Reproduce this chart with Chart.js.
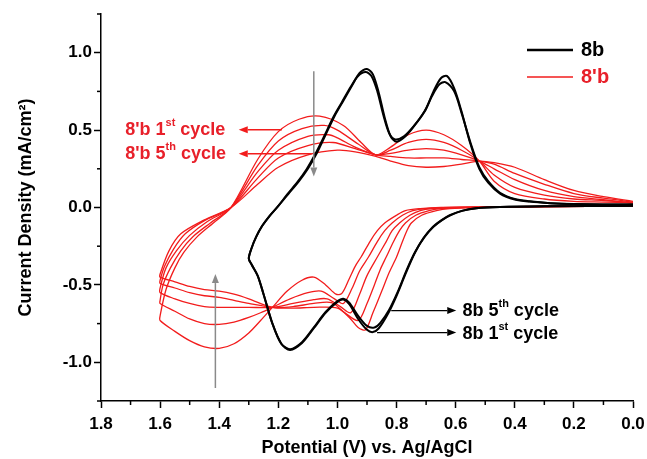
<!DOCTYPE html>
<html lang="en">
<head>
    <meta charset="UTF-8">
    <title>CV of 8b and 8'b</title>
    <script src="https://cdn.jsdelivr.net/npm/chart.js"></script>
    <style>
        body { margin: 0; background: #ffffff; }
        #cvChart { display: block; }
    </style>
</head>
<body>
    <canvas id="cvChart" width="647" height="459"></canvas>

    <script>
        // axis ticks
        const xTicks = [0.0, 0.2, 0.4, 0.6, 0.8, 1.0, 1.2, 1.4, 1.6, 1.8];
        const xMinorTicks = [0.1, 0.3, 0.5, 0.7, 0.9, 1.1, 1.3, 1.5, 1.7];
        const yTicks = [-1.0, -0.5, 0.0, 0.5, 1.0];
        const yMinorTicks = [-1.25, -0.75, -0.25, 0.25, 0.75, 1.25];

        // [potential (V), current density (mA/cm2)] - anodic sweep, then cathodic sweep back
        const cv8bCycle1 = [
            [0.00,0.020],[0.10,0.020],[0.20,0.022],[0.28,0.028],[0.35,0.038],[0.40,0.052],[0.45,0.090],[0.49,0.160],
            [0.52,0.250],[0.55,0.410],[0.58,0.620],[0.605,0.770],[0.63,0.850],[0.65,0.835],[0.675,0.750],[0.70,0.640],
            [0.735,0.540],[0.77,0.460],[0.80,0.425],[0.82,0.460],[0.84,0.580],[0.86,0.740],[0.88,0.860],[0.90,0.895],
            [0.925,0.870],[0.95,0.790],[0.98,0.690],[1.01,0.590],[1.04,0.470],[1.07,0.350],[1.10,0.250],[1.13,0.170],
            [1.165,0.090],[1.20,0.010],[1.23,-0.055],[1.255,-0.120],[1.275,-0.190],[1.29,-0.260],[1.30,-0.330],
            [1.29,-0.370],[1.27,-0.440],[1.25,-0.560],[1.22,-0.750],[1.19,-0.880],[1.16,-0.920],[1.12,-0.875],[1.08,-0.780],
            [1.04,-0.680],[1.00,-0.610],[0.98,-0.595],[0.96,-0.625],[0.93,-0.720],[0.90,-0.790],[0.88,-0.805],[0.86,-0.780],
            [0.83,-0.690],[0.80,-0.570],[0.77,-0.430],[0.74,-0.300],[0.71,-0.200],[0.68,-0.130],[0.65,-0.085],[0.62,-0.050],
            [0.58,-0.022],[0.53,-0.005],[0.45,0.003],[0.30,0.008],[0.00,0.012]
        ];
        const cv8bCycle5 = [
            [0.00,0.020],[0.10,0.020],[0.20,0.022],[0.28,0.028],[0.35,0.040],[0.40,0.055],[0.45,0.095],[0.49,0.170],
            [0.52,0.260],[0.55,0.420],[0.58,0.610],[0.605,0.750],[0.635,0.810],[0.655,0.795],[0.68,0.720],[0.705,0.620],
            [0.74,0.530],[0.775,0.460],[0.805,0.440],[0.825,0.480],[0.845,0.600],[0.865,0.750],[0.885,0.850],[0.905,0.875],
            [0.93,0.850],[0.955,0.780],[0.985,0.680],[1.015,0.580],[1.045,0.460],[1.075,0.345],[1.105,0.245],[1.135,0.165],
            [1.17,0.085],[1.20,0.010],[1.23,-0.055],[1.255,-0.120],[1.275,-0.190],[1.29,-0.260],[1.30,-0.330],
            [1.29,-0.370],[1.27,-0.440],[1.25,-0.560],[1.22,-0.750],[1.19,-0.880],[1.16,-0.915],[1.12,-0.870],[1.08,-0.775],
            [1.04,-0.675],[1.00,-0.605],[0.98,-0.590],[0.96,-0.615],[0.93,-0.700],[0.90,-0.765],[0.875,-0.775],[0.855,-0.745],
            [0.825,-0.660],[0.795,-0.540],[0.765,-0.400],[0.735,-0.280],[0.705,-0.190],[0.675,-0.125],[0.645,-0.080],[0.615,-0.048],
            [0.575,-0.020],[0.53,-0.005],[0.45,0.003],[0.30,0.008],[0.00,0.012]
        ];

        const cv8pbCycle1 = [
            [0.00,0.030],[0.10,0.035],[0.20,0.040],[0.30,0.055],[0.40,0.090],[0.47,0.170],[0.52,0.300],[0.58,0.400],
            [0.64,0.470],[0.70,0.500],[0.76,0.470],[0.82,0.390],[0.87,0.340],[0.92,0.420],[0.98,0.530],[1.06,0.590],
            [1.13,0.570],[1.20,0.490],[1.27,0.310],[1.36,0.000],[1.42,-0.100],[1.475,-0.190],[1.52,-0.290],[1.55,-0.390],
            [1.58,-0.530],[1.60,-0.700],
            [1.60,-0.730],[1.55,-0.800],[1.50,-0.860],[1.45,-0.900],[1.40,-0.910],[1.35,-0.880],[1.30,-0.810],[1.26,-0.730],
            [1.22,-0.645],[1.17,-0.540],[1.12,-0.470],[1.08,-0.450],[1.04,-0.500],[1.005,-0.560],[0.985,-0.555],[0.96,-0.460],
            [0.94,-0.380],[0.92,-0.320],[0.89,-0.220],[0.865,-0.150],[0.84,-0.100],[0.80,-0.050],[0.77,-0.020],[0.72,-0.007],
            [0.65,0.000],[0.40,0.005],[0.20,0.008],[0.00,0.010]
        ];
        const cv8pbCycle2 = [
            [0.00,0.030],[0.10,0.045],[0.20,0.055],[0.30,0.080],[0.40,0.130],[0.47,0.210],[0.52,0.300],[0.58,0.370],
            [0.64,0.420],[0.70,0.440],[0.76,0.420],[0.82,0.370],[0.87,0.340],[0.93,0.410],[1.00,0.500],[1.045,0.530],
            [1.12,0.510],[1.20,0.430],[1.27,0.270],[1.36,0.000],[1.43,-0.100],[1.49,-0.190],[1.53,-0.280],[1.565,-0.390],
            [1.59,-0.500],[1.60,-0.600],
            [1.60,-0.620],[1.55,-0.670],[1.50,-0.720],[1.45,-0.750],[1.40,-0.755],[1.35,-0.740],[1.30,-0.710],[1.26,-0.680],
            [1.22,-0.645],[1.16,-0.590],[1.10,-0.550],[1.055,-0.540],[1.01,-0.590],[0.98,-0.620],[0.95,-0.520],[0.925,-0.410],
            [0.895,-0.320],[0.865,-0.220],[0.84,-0.150],[0.815,-0.100],[0.78,-0.050],[0.745,-0.020],[0.70,-0.007],[0.62,0.000],
            [0.40,0.005],[0.20,0.008],[0.00,0.010]
        ];
        const cv8pbCycle3 = [
            [0.00,0.030],[0.10,0.050],[0.20,0.070],[0.30,0.110],[0.40,0.180],[0.47,0.250],[0.52,0.300],[0.58,0.340],
            [0.64,0.370],[0.70,0.380],[0.76,0.370],[0.82,0.350],[0.87,0.340],[0.94,0.390],[1.00,0.450],[1.03,0.470],
            [1.10,0.460],[1.20,0.370],[1.27,0.230],[1.36,0.000],[1.44,-0.090],[1.50,-0.180],[1.545,-0.280],[1.58,-0.390],
            [1.60,-0.520],
            [1.60,-0.550],[1.55,-0.590],[1.50,-0.620],[1.45,-0.640],[1.40,-0.645],[1.35,-0.645],[1.30,-0.645],[1.22,-0.645],
            [1.15,-0.620],[1.08,-0.595],[1.035,-0.590],[0.99,-0.640],[0.955,-0.680],[0.925,-0.560],[0.90,-0.440],[0.865,-0.320],
            [0.835,-0.220],[0.815,-0.150],[0.79,-0.100],[0.755,-0.050],[0.72,-0.020],[0.68,-0.007],[0.60,0.000],[0.30,0.006],
            [0.00,0.010]
        ];
        const cv8pbCycle4 = [
            [0.00,0.035],[0.10,0.060],[0.20,0.090],[0.30,0.150],[0.40,0.220],[0.47,0.280],[0.52,0.300],[0.58,0.310],
            [0.64,0.320],[0.70,0.320],[0.76,0.320],[0.82,0.330],[0.87,0.340],[0.94,0.380],[1.015,0.420],[1.10,0.400],
            [1.20,0.320],[1.27,0.190],[1.36,0.000],[1.45,-0.085],[1.515,-0.170],[1.555,-0.270],[1.585,-0.380],[1.60,-0.470],
            [1.60,-0.490],[1.55,-0.520],[1.50,-0.550],[1.45,-0.570],[1.40,-0.580],[1.35,-0.600],[1.30,-0.620],[1.22,-0.645],
            [1.15,-0.640],[1.08,-0.620],[1.02,-0.615],[0.975,-0.680],[0.93,-0.730],[0.90,-0.620],[0.875,-0.500],[0.855,-0.400],
            [0.835,-0.320],[0.81,-0.220],[0.79,-0.150],[0.77,-0.100],[0.735,-0.050],[0.69,-0.020],[0.65,-0.007],[0.58,0.000],
            [0.30,0.006],[0.00,0.010]
        ];
        const cv8pbCycle5 = [
            [0.00,0.040],[0.10,0.070],[0.20,0.110],[0.30,0.180],[0.40,0.260],[0.47,0.290],[0.52,0.300],[0.58,0.280],
            [0.64,0.265],[0.70,0.260],[0.76,0.270],[0.82,0.300],[0.87,0.330],[0.94,0.360],[1.00,0.370],[1.10,0.340],
            [1.20,0.260],[1.27,0.150],[1.36,0.000],[1.45,-0.080],[1.53,-0.170],[1.57,-0.280],[1.60,-0.430],
            [1.60,-0.450],[1.55,-0.480],[1.50,-0.510],[1.45,-0.530],[1.40,-0.540],[1.35,-0.560],[1.30,-0.590],[1.22,-0.645],
            [1.15,-0.650],[1.08,-0.645],[1.00,-0.650],[0.96,-0.710],[0.93,-0.775],[0.905,-0.790],[0.88,-0.680],[0.85,-0.540],
            [0.825,-0.420],[0.80,-0.320],[0.78,-0.220],[0.765,-0.150],[0.75,-0.100],[0.715,-0.050],[0.665,-0.020],[0.62,-0.007],
            [0.55,0.000],[0.30,0.006],[0.00,0.010]
        ];

        const BLACK = '#000000';
        const RED = '#f21c1c';
        const RED_TEXT = '#e8202a';
        const GREY = '#8a8a8a';
        const FONT = '"Liberation Sans", Arial, sans-serif';

        function toXY(pairs) {
            return pairs.map(p => ({ x: p[0], y: p[1] }));
        }

        function cvLine(pairs, color, width) {
            return {
                data: toXY(pairs),
                showLine: true,
                borderColor: color,
                borderWidth: width,
                pointRadius: 0,
                tension: 0.3,
                fill: false
            };
        }

        // first dataset is painted last, so black sits on top
        const datasets = [
            cvLine(cv8bCycle1, BLACK, 2),
            cvLine(cv8bCycle5, BLACK, 2),
            cvLine(cv8pbCycle1, RED, 1.3),
            cvLine(cv8pbCycle2, RED, 1.3),
            cvLine(cv8pbCycle3, RED, 1.3),
            cvLine(cv8pbCycle4, RED, 1.3),
            cvLine(cv8pbCycle5, RED, 1.3)
        ];

        function drawArrow(ctx, x1, y1, x2, y2, color, width) {
            const ang = Math.atan2(y2 - y1, x2 - x1);
            const head = 9, half = 3.5;
            ctx.strokeStyle = color;
            ctx.fillStyle = color;
            ctx.lineWidth = width;
            ctx.beginPath();
            ctx.moveTo(x1, y1);
            ctx.lineTo(x2 - Math.cos(ang) * head, y2 - Math.sin(ang) * head);
            ctx.stroke();
            ctx.beginPath();
            ctx.moveTo(x2, y2);
            ctx.lineTo(x2 - Math.cos(ang) * head - Math.sin(ang) * half, y2 - Math.sin(ang) * head + Math.cos(ang) * half);
            ctx.lineTo(x2 - Math.cos(ang) * head + Math.sin(ang) * half, y2 - Math.sin(ang) * head - Math.cos(ang) * half);
            ctx.closePath();
            ctx.fill();
        }

        // text with a superscript piece: [[text, isSup], ...]
        function drawSupText(ctx, x, y, pieces, color) {
            let cx = x;
            ctx.fillStyle = color;
            ctx.textAlign = 'left';
            ctx.textBaseline = 'middle';
            pieces.forEach(([txt, sup]) => {
                ctx.font = sup ? 'bold 11px ' + FONT : 'bold 18px ' + FONT;
                ctx.fillText(txt, cx, sup ? y - 7 : y);
                cx += ctx.measureText(txt).width;
            });
        }

        const cvDecorations = {
            id: 'cvDecorations',
            afterDraw(chart) {
                const { ctx, chartArea, scales: { x, y } } = chart;
                ctx.save();

                // minor ticks
                ctx.strokeStyle = BLACK;
                ctx.lineWidth = 1.5;
                xMinorTicks.forEach(v => {
                    const px = x.getPixelForValue(v);
                    ctx.beginPath();
                    ctx.moveTo(px, chartArea.bottom);
                    ctx.lineTo(px, chartArea.bottom + 4);
                    ctx.stroke();
                });
                yMinorTicks.forEach(v => {
                    const py = y.getPixelForValue(v);
                    ctx.beginPath();
                    ctx.moveTo(chartArea.left - 4, py);
                    ctx.lineTo(chartArea.left, py);
                    ctx.stroke();
                });

                // grey trend arrows
                drawArrow(ctx, x.getPixelForValue(1.08), y.getPixelForValue(0.88),
                    x.getPixelForValue(1.08), y.getPixelForValue(0.20), GREY, 1.5);
                drawArrow(ctx, x.getPixelForValue(1.413), y.getPixelForValue(-1.166),
                    x.getPixelForValue(1.413), y.getPixelForValue(-0.43), GREY, 1.5);

                // 8'b cycle labels
                drawArrow(ctx, x.getPixelForValue(1.188), y.getPixelForValue(0.503),
                    x.getPixelForValue(1.334), y.getPixelForValue(0.503), RED, 1.5);
                drawArrow(ctx, x.getPixelForValue(1.087), y.getPixelForValue(0.347),
                    x.getPixelForValue(1.334), y.getPixelForValue(0.347), RED, 1.5);
                drawSupText(ctx, x.getPixelForValue(1.718), y.getPixelForValue(0.503),
                    [["8'b 1", false], ['st', true], [' cycle', false]], RED_TEXT);
                drawSupText(ctx, x.getPixelForValue(1.718), y.getPixelForValue(0.347),
                    [["8'b 5", false], ['th', true], [' cycle', false]], RED_TEXT);

                // 8b cycle labels
                drawArrow(ctx, x.getPixelForValue(0.818), y.getPixelForValue(-0.666),
                    x.getPixelForValue(0.598), y.getPixelForValue(-0.666), BLACK, 1.3);
                drawArrow(ctx, x.getPixelForValue(0.866), y.getPixelForValue(-0.808),
                    x.getPixelForValue(0.598), y.getPixelForValue(-0.808), BLACK, 1.3);
                drawSupText(ctx, x.getPixelForValue(0.577), y.getPixelForValue(-0.666),
                    [['8b 5', false], ['th', true], [' cycle', false]], BLACK);
                drawSupText(ctx, x.getPixelForValue(0.577), y.getPixelForValue(-0.815),
                    [['8b 1', false], ['st', true], [' cycle', false]], BLACK);

                // legend
                const lx = chartArea.right - 106;
                ctx.lineWidth = 2.5;
                ctx.strokeStyle = BLACK;
                ctx.beginPath();
                ctx.moveTo(lx, chartArea.top + 36);
                ctx.lineTo(lx + 46, chartArea.top + 36);
                ctx.stroke();
                ctx.lineWidth = 1.5;
                ctx.strokeStyle = RED;
                ctx.beginPath();
                ctx.moveTo(lx, chartArea.top + 63);
                ctx.lineTo(lx + 46, chartArea.top + 63);
                ctx.stroke();
                ctx.font = 'bold 20px ' + FONT;
                ctx.textBaseline = 'middle';
                ctx.fillStyle = BLACK;
                ctx.fillText('8b', lx + 54, chartArea.top + 36);
                ctx.fillStyle = RED_TEXT;
                ctx.fillText("8'b", lx + 54, chartArea.top + 63);

                ctx.restore();
            }
        };

        const tickFont = { family: FONT, size: 17, weight: 'bold' };

        new Chart(document.getElementById('cvChart'), {
            type: 'scatter',
            data: { datasets: datasets },
            plugins: [cvDecorations],
            options: {
                responsive: false,
                animation: false,
                devicePixelRatio: 1,
                layout: { padding: { top: 14, right: 14, left: 0, bottom: 0 } },
                plugins: {
                    legend: { display: false },
                    tooltip: { enabled: false }
                },
                scales: {
                    x: {
                        type: 'linear',
                        reverse: true,
                        min: 0,
                        max: 1.8,
                        afterBuildTicks: axis => { axis.ticks = xTicks.map(v => ({ value: v })); },
                        afterFit: scale => { scale.height = 58; },
                        ticks: {
                            color: BLACK,
                            font: tickFont,
                            padding: 6,
                            maxRotation: 0,
                            callback: v => Number(v).toFixed(1)
                        },
                        grid: {
                            drawOnChartArea: false,
                            drawTicks: true,
                            tickLength: 7,
                            tickColor: BLACK,
                            tickWidth: 1.5
                        },
                        border: { color: BLACK, width: 1.5 },
                        title: {
                            display: true,
                            text: 'Potential (V) vs. Ag/AgCl',
                            color: BLACK,
                            font: { family: FONT, size: 18, weight: 'bold' },
                            padding: { top: 0, bottom: 0 }
                        }
                    },
                    y: {
                        type: 'linear',
                        min: -1.25,
                        max: 1.25,
                        afterBuildTicks: axis => { axis.ticks = yTicks.map(v => ({ value: v })); },
                        afterFit: scale => { scale.width = 101; },
                        ticks: {
                            color: BLACK,
                            font: tickFont,
                            padding: 2,
                            callback: v => Number(v).toFixed(1)
                        },
                        grid: {
                            drawOnChartArea: false,
                            drawTicks: true,
                            tickLength: 7,
                            tickColor: BLACK,
                            tickWidth: 1.5
                        },
                        border: { color: BLACK, width: 1.5 },
                        title: {
                            display: true,
                            text: 'Current Density (mA/cm²)',
                            color: BLACK,
                            font: { family: FONT, size: 18, weight: 'bold' },
                            padding: { top: 15, bottom: 0 }
                        }
                    }
                }
            }
        });
    </script>
</body>
</html>
